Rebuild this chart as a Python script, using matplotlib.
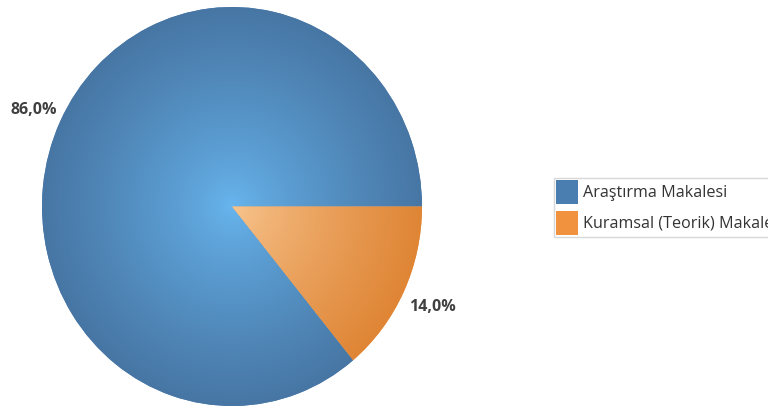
# Pie chart: article types
import numpy as np
import matplotlib.pyplot as plt
from matplotlib.colors import to_rgb

labels = ["Araştırma Makalesi", "Kuramsal (Teorik) Makalesi"]
shares = [86.0, 14.0]
pct_text = ["86,0%", "14,0%"]

# gradient colours (centre, edge) for each slice
inner_colors = ["#68b6ef", "#f8c690"]
outer_colors = ["#4776a4", "#df8535"]
legend_colors = ["#4a7db0", "#f0923e"]

plt.rcParams['font.family'] = ['Open Sans', 'DejaVu Sans']

fig = plt.figure(figsize=(7.68, 4.11), dpi=100)
W, H = 768, 411

# pie axes placed in pixel geometry (slightly taller than wide, as in the source)
ax = fig.add_axes([42 / W, (H - 406) / H, 380 / W, 399 / H])
wedges, _ = ax.pie(shares, radius=1, startangle=0, counterclock=True,
                   colors=legend_colors, wedgeprops=dict(linewidth=0))
ax.set_aspect('auto')
ax.set_xlim(-1, 1)
ax.set_ylim(-1, 1)
ax.axis('off')

# radial gradient fill clipped to each wedge
n = 400
xx, yy = np.meshgrid(np.linspace(-1, 1, n), np.linspace(-1, 1, n))
r = np.clip(np.sqrt(xx ** 2 + yy ** 2), 0, 1) ** 0.8
for w, c_in, c_out in zip(wedges, inner_colors, outer_colors):
    a = np.array(to_rgb(c_in))
    b = np.array(to_rgb(c_out))
    img = a[None, None, :] * (1 - r[..., None]) + b[None, None, :] * r[..., None]
    im = ax.imshow(img, extent=[-1, 1, -1, 1], origin='lower',
                   interpolation='bilinear', zorder=2, aspect='auto')
    im.set_clip_path(w)

# percentage labels
fig.text(34 / W, 1 - 110 / H, pct_text[0], ha='center', va='center',
         fontsize=11.5, fontweight='bold', color='#404040')
fig.text(432 / W, 1 - 307 / H, pct_text[1], ha='center', va='center',
         fontsize=11.5, fontweight='bold', color='#404040')

# legend (runs off the right edge like the original)
handles = [plt.Rectangle((0, 0), 1, 1, facecolor=c, edgecolor='none')
           for c in legend_colors]
leg = fig.legend(handles, labels, loc='upper left',
                 bbox_to_anchor=(554 / W, 1 - 178 / H),
                 fontsize=11.6, frameon=True, fancybox=False,
                 handlelength=1.38, handleheight=1.93, handletextpad=0.3,
                 labelspacing=0.4, borderpad=0.12, borderaxespad=0)
leg.get_frame().set_edgecolor('#cfcfcf')
leg.get_frame().set_linewidth(1.0)
for t in leg.get_texts():
    t.set_color('#333333')

fig.savefig('out.png', dpi=100)
